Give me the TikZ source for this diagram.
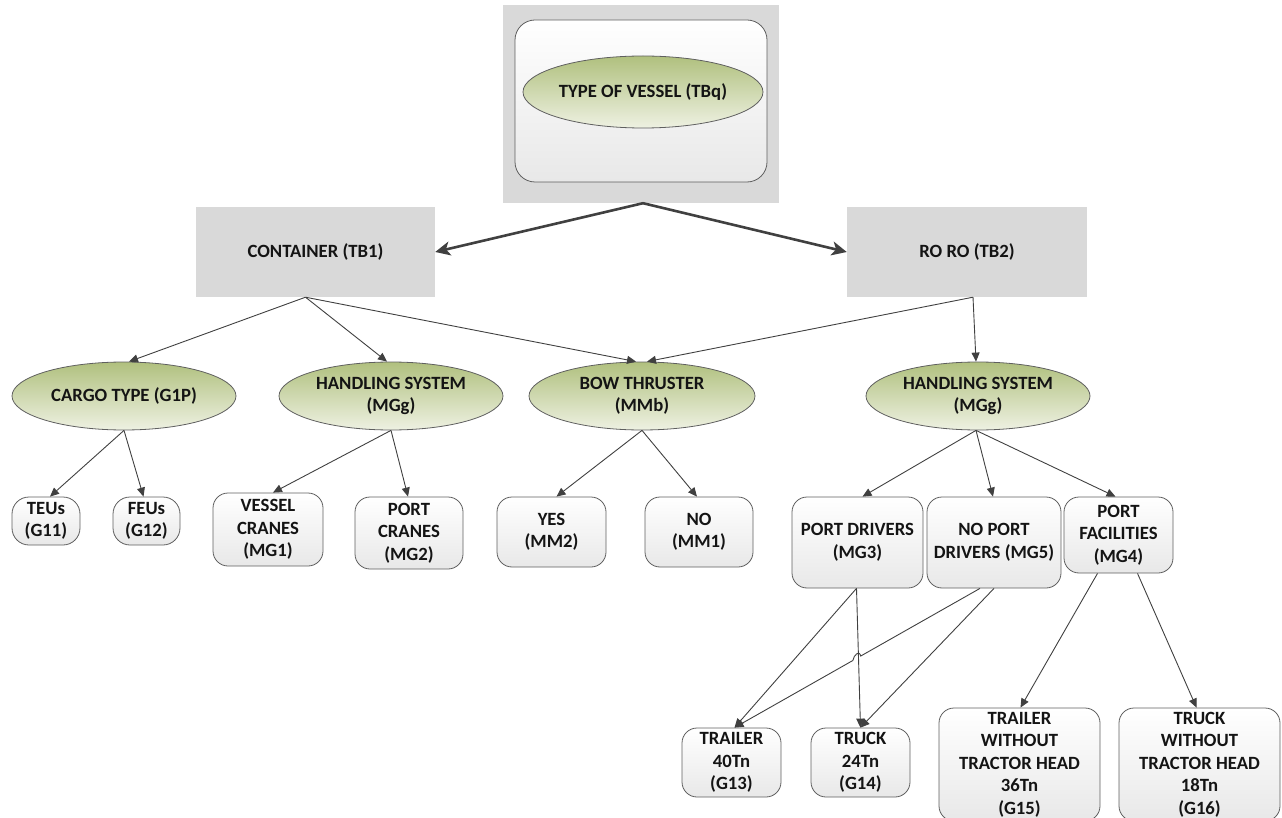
\documentclass[tikz,border=0pt]{standalone}
\usepackage{fontspec}
\setmainfont{Carlito}
\usetikzlibrary{arrows.meta,calc,shapes.geometric}
\definecolor{linec}{RGB}{64,64,64}
\definecolor{boxgray}{RGB}{217,217,217}
\definecolor{edgec}{RGB}{95,95,95}
\definecolor{elltop}{RGB}{176,192,126}
\definecolor{ellbot}{RGB}{238,241,226}
\definecolor{boxbot}{RGB}{232,232,232}
\definecolor{txt}{RGB}{20,20,20}
\tikzset{
  lbl/.style={font=\fontsize{18.7}{22.5}\selectfont\bfseries, text=txt, align=center},
  grayrect/.style={lbl, rectangle, fill=boxgray, draw=none, inner sep=2pt},
  rbox/.style={lbl, rectangle, rounded corners=15pt, draw=edgec, line width=0.8pt, top color=white, bottom color=boxbot, inner sep=2pt},
  ell/.style={lbl, ellipse, draw=edgec, line width=0.8pt, top color=elltop, bottom color=ellbot, inner sep=0pt},
  conn/.style={draw=linec, line width=0.9pt, -{Triangle[length=9pt,width=8pt]}},
  plainconn/.style={draw=linec, line width=0.9pt},
  thickarr/.style={draw=linec, line width=2.6pt, -{Stealth[length=15pt,width=14pt,inset=4pt]}}
}
\begin{document}
\begin{tikzpicture}[x=1pt,y=-1pt]
\useasboundingbox (0,0) rectangle (1282,818);
% top
\node[grayrect, minimum width=276pt, minimum height=198pt] (topbg) at (641,104) {};
\node[rbox, rounded corners=20pt, minimum width=252pt, minimum height=162pt] (topin) at (641,101) {};
\node[ell, minimum width=240pt, minimum height=72pt] (tbq) at (643,92) {TYPE OF VESSEL (TBq)};
% level 1
\node[grayrect, minimum width=239pt, minimum height=90pt] (cont) at (315.5,252) {CONTAINER (TB1)};
\node[grayrect, minimum width=240pt, minimum height=90pt] (roro) at (967,252) {RO RO (TB2)};
% level 2
\node[ell, minimum width=224pt, minimum height=68pt] (cargo) at (124,396) {CARGO TYPE (G1P)};
\node[ell, minimum width=224pt, minimum height=68pt] (hsa) at (391,396) {HANDLING SYSTEM\\(MGg)};
\node[ell, minimum width=226pt, minimum height=68pt] (bow) at (642,396) {BOW THRUSTER\\(MMb)};
\node[ell, minimum width=224pt, minimum height=68pt] (hsb) at (978,396) {HANDLING SYSTEM\\(MGg)};
% level 3
\node[rbox, rounded corners=17pt, minimum width=68pt, minimum height=48pt] (teu) at (46,521) {TEUs\\(G11)};
\node[rbox, rounded corners=17pt, minimum width=67pt, minimum height=48pt] (feu) at (146.5,521) {FEUs\\(G12)};
\node[rbox, minimum width=110pt, minimum height=73pt] (vc) at (268,529.5) {VESSEL\\CRANES\\(MG1)};
\node[rbox, minimum width=108pt, minimum height=72pt] (pc) at (409,533) {PORT\\CRANES\\(MG2)};
\node[rbox, minimum width=109pt, minimum height=70pt] (yes) at (551.5,532) {YES\\(MM2)};
\node[rbox, minimum width=108pt, minimum height=70pt] (no) at (699,532) {NO\\(MM1)};
\node[rbox, minimum width=131pt, minimum height=91pt] (pd) at (857.5,542.5) {PORT DRIVERS\\(MG3)};
\node[rbox, minimum width=134pt, minimum height=91pt] (npd) at (994,542.5) {NO PORT\\DRIVERS (MG5)};
\node[rbox, minimum width=109pt, minimum height=76pt] (pf) at (1118.5,535) {PORT\\FACILITIES\\(MG4)};
% level 4
\node[rbox, minimum width=99pt, minimum height=69pt] (t40) at (731.5,762.5) {TRAILER\\40Tn\\(G13)};
\node[rbox, minimum width=99pt, minimum height=69pt] (k24) at (860.5,762.5) {TRUCK\\24Tn\\(G14)};
\node[rbox, minimum width=161pt, minimum height=113pt] (t36) at (1019.5,764.5) {TRAILER\\WITHOUT\\TRACTOR HEAD\\36Tn\\(G15)};
\node[rbox, minimum width=161pt, minimum height=113pt] (k18) at (1199.5,764.5) {TRUCK\\WITHOUT\\TRACTOR HEAD\\18Tn\\(G16)};
% connectors
\draw[thickarr] ([xshift=2pt]topbg.south) -- (cont.east);
\draw[thickarr] ([xshift=2pt]topbg.south) -- (roro.west);
\draw[conn] ([xshift=-10pt]cont.south) -- ([xshift=5pt]cargo.north);
\draw[conn] ([xshift=-10pt]cont.south) -- ([xshift=-4pt]hsa.north);
\draw[conn] ([xshift=-10pt]cont.south) -- ([xshift=-6pt]bow.north);
\draw[conn] ([xshift=6pt]roro.south) -- ([xshift=5pt]bow.north);
\draw[conn] ([xshift=6pt]roro.south) -- ([xshift=-2pt]hsb.north);
\draw[conn] (cargo.south) -- ([xshift=4pt]teu.north);
\draw[conn] (cargo.south) -- ([xshift=-3pt]feu.north);
\draw[conn] (hsa.south) -- ([xshift=5pt]vc.north);
\draw[conn] (hsa.south) -- ([xshift=-1pt]pc.north);
\draw[conn] (bow.south) -- ([xshift=5pt]yes.north);
\draw[conn] (bow.south) -- ([xshift=-2pt]no.north);
\draw[conn] ([xshift=-2pt]hsb.south) -- ([xshift=5pt]pd.north);
\draw[conn] ([xshift=-2pt]hsb.south) -- ([xshift=-1pt]npd.north);
\draw[conn] ([xshift=-2pt]hsb.south) -- ([xshift=-3pt]pf.north);
\draw[conn] ([xshift=-21pt]pf.south) -- ([xshift=1pt]t36.north);
\draw[conn] ([xshift=19pt]pf.south) -- ([xshift=-3pt]k18.north);
\draw[conn] ([xshift=-1pt]pd.south) -- ([xshift=3pt]t40.north);
\draw[conn] ([xshift=-1pt]pd.south) -- (k24.north);
\draw[conn] (npd.south) -- (k24.north);
% crossing line with hop
\coordinate (npdL) at ([xshift=-14pt]npd.south);
\coordinate (t40N) at ([xshift=3pt]t40.north);
\coordinate (hopA) at ($(npdL)!0.486!(t40N)$);
\coordinate (hopB) at ($(npdL)!0.518!(t40N)$);
\draw[plainconn] (npdL) -- (hopA) .. controls ($(hopA)+(-1,-6)$) and ($(hopB)+(1,-6)$) .. (hopB);
\draw[conn] (hopB) -- (t40N);
\end{tikzpicture}
\end{document}
